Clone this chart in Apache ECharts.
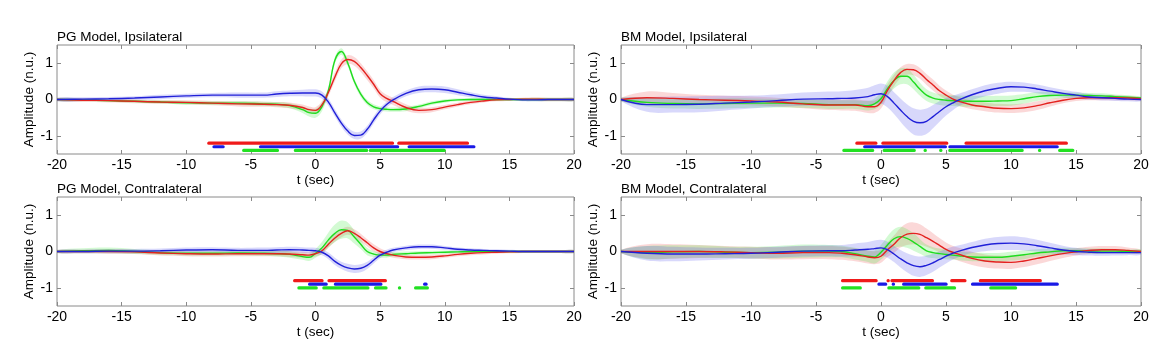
<!DOCTYPE html>
<html>
<head>
<meta charset="utf-8">
<script src="https://cdn.jsdelivr.net/npm/echarts@6/dist/echarts.min.js"></script>
<style>
html,body{margin:0;padding:0;background:#fff;}
#chart{width:1164px;height:344px;}
</style>
</head>
<body>
<div id="chart"></div>
<script>
// ---------- data ----------
const T = [-20,-18,-16,-14,-12,-10,-8,-6,-4,-3,-2,-1,-0.5,0,0.5,1,1.5,2,2.5,3,3.5,4,4.5,5,5.5,6,7,8,9,10,11,12,13,14,15,16,17,18,19,20];
const X_TICKS = [-20,-15,-10,-5,0,5,10,15,20];
const Y_TICKS = [-1,0,1];
const TITLES = ['PG Model, Ipsilateral','BM Model, Ipsilateral','PG Model, Contralateral','BM Model, Contralateral'];

// PG Model, Ipsilateral
const PG_IPSI_RED   = [0,-0.02,-0.03,-0.05,-0.07,-0.08,-0.1,-0.12,-0.13,-0.14,-0.16,-0.22,-0.28,-0.3,-0.15,0.2,0.62,0.98,1.1,1.05,0.88,0.66,0.42,0.16,0.03,-0.05,-0.22,-0.3,-0.28,-0.21,-0.14,-0.08,-0.04,-0.01,0,0.01,0.01,0,0,0];
const PG_IPSI_GREEN = [0,-0.01,-0.03,-0.05,-0.07,-0.09,-0.1,-0.1,-0.12,-0.13,-0.17,-0.28,-0.36,-0.38,-0.2,0.25,1.08,1.32,1.0,0.5,0.15,-0.08,-0.2,-0.25,-0.27,-0.28,-0.26,-0.19,-0.1,-0.04,-0.01,0,0,0,0,0,0,0,0,0];
const PG_IPSI_BLUE  = [0,0.01,0.02,0.04,0.07,0.1,0.12,0.12,0.12,0.15,0.17,0.18,0.18,0.18,0.12,-0.07,-0.37,-0.65,-0.87,-0.99,-0.98,-0.82,-0.56,-0.32,-0.14,-0.01,0.17,0.27,0.29,0.27,0.2,0.13,0.07,0.04,0.01,-0.01,-0.01,0,0,0];
const PG_IPSI_RED_W   = [0.04,0.05,0.05,0.05,0.05,0.06,0.06,0.07,0.07,0.07,0.08,0.08,0.09,0.09,0.1,0.11,0.12,0.12,0.12,0.12,0.12,0.12,0.12,0.11,0.1,0.1,0.09,0.08,0.07,0.06,0.05,0.05,0.04,0.04,0.04,0.04,0.05,0.05,0.05,0.04];
const PG_IPSI_GREEN_W = [0.04,0.04,0.04,0.04,0.04,0.05,0.05,0.05,0.06,0.06,0.07,0.09,0.11,0.12,0.12,0.1,0.09,0.09,0.09,0.08,0.08,0.07,0.07,0.06,0.06,0.06,0.06,0.05,0.05,0.05,0.04,0.04,0.04,0.04,0.04,0.04,0.05,0.05,0.05,0.04];
const PG_IPSI_BLUE_W  = [0.05,0.05,0.05,0.05,0.06,0.06,0.06,0.07,0.07,0.08,0.08,0.09,0.1,0.1,0.1,0.1,0.1,0.1,0.1,0.1,0.1,0.1,0.1,0.09,0.08,0.08,0.08,0.09,0.09,0.09,0.08,0.07,0.06,0.05,0.04,0.04,0.04,0.04,0.04,0.04];
const PG_IPSI_SIG_RED   = [[-8.3,6.0],[6.4,11.8]];
const PG_IPSI_SIG_BLUE  = [[-7.9,-7.1],[-4.3,6.4],[7.2,12.3]];
const PG_IPSI_SIG_GREEN = [[-5.6,-2.9],[-1.6,4.0],[4.2,10.0]];

// BM Model, Ipsilateral
const BM_IPSI_RED   = [0,0.05,0.03,0,-0.02,-0.04,-0.07,-0.12,-0.15,-0.15,-0.15,-0.2,-0.2,-0.08,0.25,0.52,0.74,0.83,0.82,0.72,0.55,0.4,0.24,0.12,0.02,-0.05,-0.15,-0.2,-0.24,-0.25,-0.23,-0.17,-0.09,-0.02,0.03,0.05,0.05,0.05,0.04,0.02];
const BM_IPSI_GREEN = [0,-0.08,-0.11,-0.12,-0.11,-0.1,-0.1,-0.11,-0.14,-0.14,-0.14,-0.17,-0.12,0.02,0.3,0.52,0.64,0.64,0.48,0.28,0.12,0.04,0,-0.02,-0.03,-0.04,-0.05,-0.05,-0.04,-0.03,0.02,0.08,0.11,0.12,0.12,0.11,0.1,0.08,0.06,0.04];
const BM_IPSI_BLUE  = [0,-0.14,-0.14,-0.13,-0.1,-0.07,-0.03,0.01,0.02,0.03,0.04,0.08,0.13,0.16,0.08,-0.1,-0.29,-0.47,-0.6,-0.64,-0.6,-0.47,-0.33,-0.2,-0.1,-0.01,0.13,0.24,0.31,0.35,0.34,0.29,0.23,0.17,0.12,0.07,0.05,0.03,0.01,0];
const BM_IPSI_RED_W   = [0.05,0.17,0.15,0.13,0.12,0.12,0.12,0.12,0.14,0.15,0.16,0.17,0.17,0.17,0.17,0.16,0.15,0.15,0.15,0.15,0.15,0.15,0.14,0.13,0.12,0.12,0.12,0.12,0.12,0.12,0.12,0.12,0.1,0.08,0.07,0.07,0.07,0.07,0.06,0.04];
const BM_IPSI_GREEN_W = [0.05,0.12,0.14,0.14,0.14,0.13,0.12,0.12,0.12,0.12,0.12,0.13,0.15,0.17,0.2,0.22,0.22,0.22,0.2,0.18,0.16,0.15,0.15,0.15,0.15,0.15,0.15,0.15,0.14,0.14,0.13,0.12,0.1,0.08,0.07,0.07,0.07,0.06,0.06,0.04];
const BM_IPSI_BLUE_W  = [0.05,0.2,0.22,0.22,0.2,0.18,0.17,0.18,0.2,0.2,0.22,0.24,0.26,0.28,0.3,0.3,0.32,0.34,0.36,0.36,0.35,0.32,0.28,0.24,0.2,0.17,0.15,0.15,0.15,0.14,0.13,0.12,0.11,0.1,0.09,0.08,0.08,0.07,0.06,0.05];
const BM_IPSI_SIG_RED   = [[-1.9,-0.35],[0.1,5.1],[6.5,14.3]];
const BM_IPSI_SIG_BLUE  = [[-1.3,5.0],[5.25,13.6]];
const BM_IPSI_SIG_GREEN = [[-2.9,-0.6],[0.2,2.6],[3.35,3.45],[4.55,4.65],[5.25,10.9],[12.15,12.25],[13.7,14.8]];

// PG Model, Contralateral
const PG_CONTRA_RED   = [0,0,0,-0.01,-0.04,-0.06,-0.07,-0.06,-0.06,-0.06,-0.07,-0.09,-0.1,-0.06,0.02,0.2,0.37,0.5,0.57,0.5,0.38,0.24,0.1,0,-0.06,-0.1,-0.15,-0.16,-0.15,-0.12,-0.08,-0.05,-0.03,-0.02,-0.01,0,0,0,0,0];
const PG_CONTRA_GREEN = [0,0.02,0.03,0,-0.03,-0.05,-0.05,-0.04,-0.05,-0.06,-0.08,-0.14,-0.16,-0.05,0.1,0.32,0.5,0.6,0.58,0.4,0.2,0,-0.07,-0.1,-0.1,-0.08,-0.06,-0.04,-0.03,-0.02,-0.01,0,0,0,0,0,0,0,0,0];
const PG_CONTRA_BLUE  = [0,0,0.01,0.01,0.02,0.04,0.05,0.03,0.03,0.04,0.05,0.04,0.03,0.02,-0.02,-0.12,-0.27,-0.38,-0.45,-0.48,-0.46,-0.38,-0.24,-0.1,-0.02,0.04,0.1,0.13,0.13,0.1,0.06,0.04,0.03,0.02,0.01,0,0,0,0,0];
const PG_CONTRA_RED_W   = [0.04,0.05,0.06,0.06,0.07,0.07,0.07,0.07,0.07,0.07,0.08,0.08,0.08,0.08,0.09,0.1,0.1,0.11,0.11,0.11,0.11,0.1,0.1,0.09,0.08,0.07,0.06,0.06,0.06,0.05,0.05,0.05,0.05,0.04,0.04,0.04,0.04,0.04,0.04,0.04];
const PG_CONTRA_GREEN_W = [0.04,0.07,0.08,0.07,0.06,0.06,0.06,0.06,0.07,0.08,0.09,0.09,0.1,0.12,0.16,0.2,0.24,0.25,0.22,0.18,0.13,0.1,0.08,0.07,0.07,0.06,0.06,0.05,0.05,0.05,0.04,0.04,0.04,0.04,0.04,0.04,0.04,0.04,0.04,0.04];
const PG_CONTRA_BLUE_W  = [0.04,0.05,0.06,0.06,0.06,0.07,0.07,0.07,0.08,0.08,0.08,0.08,0.08,0.08,0.08,0.09,0.1,0.1,0.11,0.11,0.11,0.1,0.09,0.08,0.07,0.06,0.06,0.06,0.06,0.05,0.05,0.05,0.04,0.04,0.04,0.04,0.04,0.04,0.04,0.04];
const PG_CONTRA_SIG_RED   = [[-1.66,0.55],[1.0,5.45]];
const PG_CONTRA_SIG_BLUE  = [[-0.5,0.87],[1.5,5.1],[8.4,8.6]];
const PG_CONTRA_SIG_GREEN = [[-1.33,0.1],[0.6,4.1],[4.6,5.5],[6.45,6.55],[7.7,8.7]];

// BM Model, Contralateral
const BM_CONTRA_RED   = [0,0,0,0,-0.01,-0.03,-0.05,-0.03,-0.03,-0.05,-0.09,-0.15,-0.17,-0.13,0.05,0.2,0.38,0.48,0.5,0.47,0.38,0.28,0.17,0.06,-0.02,-0.08,-0.19,-0.26,-0.29,-0.3,-0.26,-0.19,-0.12,-0.06,-0.01,0.03,0.05,0.05,0.03,0];
const BM_CONTRA_GREEN = [0,-0.03,-0.01,0,-0.02,-0.03,-0.02,0.01,0.01,0,-0.06,-0.13,-0.15,-0.02,0.18,0.35,0.41,0.36,0.26,0.14,0.02,-0.03,-0.06,-0.08,-0.1,-0.12,-0.15,-0.16,-0.16,-0.13,-0.09,-0.04,-0.01,0.02,0.02,0.01,0.01,0.01,0,0];
const BM_CONTRA_BLUE  = [0,-0.05,-0.07,-0.07,-0.06,-0.05,-0.02,0.01,0.02,0.02,0.04,0.06,0.08,0.1,0.05,-0.07,-0.2,-0.31,-0.39,-0.42,-0.38,-0.31,-0.22,-0.13,-0.05,0.01,0.11,0.18,0.22,0.23,0.21,0.16,0.1,0.04,0,-0.02,-0.03,-0.03,-0.03,-0.03];
const BM_CONTRA_RED_W   = [0.05,0.2,0.2,0.18,0.16,0.16,0.17,0.18,0.18,0.18,0.18,0.18,0.18,0.18,0.2,0.24,0.27,0.3,0.3,0.28,0.25,0.22,0.2,0.19,0.18,0.18,0.18,0.18,0.18,0.18,0.17,0.16,0.14,0.12,0.1,0.1,0.1,0.1,0.08,0.05];
const BM_CONTRA_GREEN_W = [0.05,0.18,0.18,0.17,0.16,0.16,0.17,0.18,0.17,0.16,0.16,0.16,0.18,0.2,0.24,0.26,0.27,0.26,0.24,0.2,0.17,0.15,0.14,0.13,0.12,0.12,0.12,0.12,0.12,0.12,0.12,0.1,0.09,0.08,0.07,0.07,0.07,0.06,0.05,0.05];
const BM_CONTRA_BLUE_W  = [0.05,0.2,0.2,0.18,0.16,0.15,0.15,0.15,0.15,0.16,0.18,0.2,0.22,0.22,0.22,0.22,0.24,0.26,0.28,0.28,0.27,0.25,0.22,0.2,0.18,0.16,0.15,0.17,0.18,0.19,0.18,0.16,0.14,0.12,0.1,0.09,0.09,0.08,0.07,0.06];
const BM_CONTRA_SIG_RED   = [[-3.0,-0.33],[0.5,0.6],[0.8,4.0],[5.4,6.5],[7.6,12.3]];
const BM_CONTRA_SIG_BLUE  = [[-0.2,0.4],[0.9,1.0],[1.7,5.05],[7.0,13.6]];
const BM_CONTRA_SIG_GREEN = [[-3.0,-1.55],[0.56,2.95],[3.4,5.7],[8.4,10.4]];

// significance row levels (red, blue, green)
const SIG_LEVELS_TOP = [-1.2,-1.3,-1.4];
const SIG_LEVELS_BOTTOM = [-0.8,-0.9,-1.0];

// ---------- build ----------
const FONT = 'Arial, "Liberation Sans", sans-serif';
const COL = {
  red:   {line:'#e3221f', band:'rgba(240,90,90,0.24)', sig:'#f01a1a'},
  green: {line:'#1fdc1f', band:'rgba(70,235,70,0.24)', sig:'#22e022'},
  blue:  {line:'#2020d8', band:'rgba(90,90,240,0.24)', sig:'#1a1ae6'}
};

const panels = [
  {red:PG_IPSI_RED, green:PG_IPSI_GREEN, blue:PG_IPSI_BLUE, redW:PG_IPSI_RED_W, greenW:PG_IPSI_GREEN_W, blueW:PG_IPSI_BLUE_W,
   sigRed:PG_IPSI_SIG_RED, sigBlue:PG_IPSI_SIG_BLUE, sigGreen:PG_IPSI_SIG_GREEN, lv:SIG_LEVELS_TOP},
  {red:BM_IPSI_RED, green:BM_IPSI_GREEN, blue:BM_IPSI_BLUE, redW:BM_IPSI_RED_W, greenW:BM_IPSI_GREEN_W, blueW:BM_IPSI_BLUE_W,
   sigRed:BM_IPSI_SIG_RED, sigBlue:BM_IPSI_SIG_BLUE, sigGreen:BM_IPSI_SIG_GREEN, lv:SIG_LEVELS_TOP},
  {red:PG_CONTRA_RED, green:PG_CONTRA_GREEN, blue:PG_CONTRA_BLUE, redW:PG_CONTRA_RED_W, greenW:PG_CONTRA_GREEN_W, blueW:PG_CONTRA_BLUE_W,
   sigRed:PG_CONTRA_SIG_RED, sigBlue:PG_CONTRA_SIG_BLUE, sigGreen:PG_CONTRA_SIG_GREEN, lv:SIG_LEVELS_BOTTOM},
  {red:BM_CONTRA_RED, green:BM_CONTRA_GREEN, blue:BM_CONTRA_BLUE, redW:BM_CONTRA_RED_W, greenW:BM_CONTRA_GREEN_W, blueW:BM_CONTRA_BLUE_W,
   sigRed:BM_CONTRA_SIG_RED, sigBlue:BM_CONTRA_SIG_BLUE, sigGreen:BM_CONTRA_SIG_GREEN, lv:SIG_LEVELS_BOTTOM}
];

const gridBoxes = [
  {left:57, top:45, width:517, height:109},
  {left:621, top:45, width:520, height:109},
  {left:57, top:197, width:517, height:109},
  {left:621, top:197, width:520, height:109}
];

const grids = [], xAxes = [], yAxes = [], titles = [], series = [];

function bandSeries(ax, vals, w, color) {
  return {
    type:'custom', xAxisIndex:ax, yAxisIndex:ax, clip:true, silent:true, z:1,
    data: T.map((t,i)=>[t, vals[i]-w[i], vals[i]+w[i]]),
    encode:{x:0, y:[1,2]},
    renderItem(params, api) {
      if (params.dataIndex !== 0) return null;
      const up = [], lo = [];
      for (let i = 0; i < T.length; i++) {
        up.push(api.coord([T[i], vals[i]+w[i]]));
        lo.push(api.coord([T[i], vals[i]-w[i]]));
      }
      return {type:'polygon', shape:{points: up.concat(lo.reverse()), smooth:0.35}, style:{fill:color}};
    }
  };
}
function lineSeries(ax, vals, color) {
  return {
    type:'line', xAxisIndex:ax, yAxisIndex:ax, silent:true, z:3,
    data: T.map((t,i)=>[t, vals[i]]), symbol:'none', showSymbol:false, smooth:0.4,
    lineStyle:{color:color, width:1.4}
  };
}
function sigSeries(ax, spans, level, color) {
  return {
    type:'custom', xAxisIndex:ax, yAxisIndex:ax, silent:true, z:4,
    data: spans.map(s=>[s[0], s[1], level]),
    encode:{x:[0,1], y:2},
    renderItem(params, api) {
      const a = api.coord([api.value(0), api.value(2)]);
      const b = api.coord([api.value(1), api.value(2)]);
      return {type:'rect', shape:{x:a[0]-1, y:a[1]-1.6, width:Math.max(b[0]-a[0]+2, 3.2), height:3.2, r:1.5}, style:{fill:color}};
    }
  };
}

panels.forEach((p, i) => {
  const g = gridBoxes[i];
  grids.push(Object.assign({show:true, borderColor:'#8a8a8a', borderWidth:1, backgroundColor:'transparent'}, g));
  titles.push({text:TITLES[i], left:g.left, top:g.top-15, padding:0,
    textStyle:{fontSize:13.5, fontWeight:'normal', color:'#000', fontFamily:FONT}});
  const tickStyle = {show:true, inside:true, length:4, lineStyle:{color:'#8a8a8a', width:1}};
  const line = {show:false, onZero:false};
  xAxes.push({type:'value', gridIndex:i, position:'bottom', min:-20, max:20, interval:5,
    axisLine:line, axisTick:tickStyle, splitLine:{show:false},
    axisLabel:{color:'#000', fontSize:14, margin:4, fontFamily:FONT},
    name:'t (sec)', nameLocation:'middle', nameGap:19,
    nameTextStyle:{color:'#000', fontSize:13.5, fontFamily:FONT}});
  xAxes.push({type:'value', gridIndex:i, position:'top', min:-20, max:20, interval:5,
    axisLine:line, axisTick:tickStyle, splitLine:{show:false}, axisLabel:{show:false}});
  yAxes.push({type:'value', gridIndex:i, position:'left', min:-1.5, max:1.5,
    axisLine:line, splitLine:{show:false},
    axisTick:Object.assign({customValues:Y_TICKS}, tickStyle),
    axisLabel:{color:'#000', fontSize:14, margin:4, fontFamily:FONT, customValues:Y_TICKS},
    name:'Amplitude (n.u.)', nameLocation:'middle', nameGap:15,
    nameTextStyle:{color:'#000', fontSize:13.5, fontFamily:FONT}});
  yAxes.push({type:'value', gridIndex:i, position:'right', min:-1.5, max:1.5,
    axisLine:line, splitLine:{show:false},
    axisTick:Object.assign({customValues:Y_TICKS}, tickStyle),
    axisLabel:{show:false}});
  const ax = i*2;
  series.push(bandSeries(ax, p.red, p.redW, COL.red.band));
  series.push(bandSeries(ax, p.green, p.greenW, COL.green.band));
  series.push(bandSeries(ax, p.blue, p.blueW, COL.blue.band));
  series.push(lineSeries(ax, p.green, COL.green.line));
  series.push(lineSeries(ax, p.red, COL.red.line));
  series.push(lineSeries(ax, p.blue, COL.blue.line));
  series.push(sigSeries(ax, p.sigRed, p.lv[0], COL.red.sig));
  series.push(sigSeries(ax, p.sigBlue, p.lv[1], COL.blue.sig));
  series.push(sigSeries(ax, p.sigGreen, p.lv[2], COL.green.sig));
});

const chart = echarts.init(document.getElementById('chart'), null, {renderer:'canvas'});
chart.setOption({
  animation:false,
  backgroundColor:'#fff',
  title:titles, grid:grids, xAxis:xAxes, yAxis:yAxes, series:series
});
</script>
</body>
</html>
